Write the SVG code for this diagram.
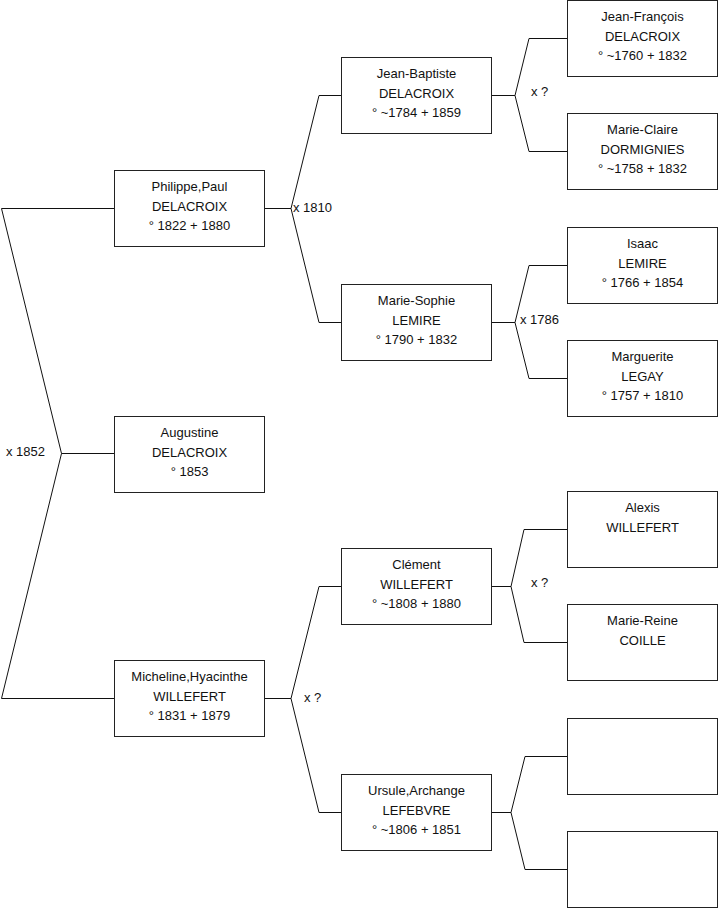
<svg xmlns="http://www.w3.org/2000/svg" width="719" height="908" viewBox="0 0 719 908">
<style>
.box{fill:#fff;stroke:#222;stroke-width:1}
.t{font-family:"Liberation Sans",Arial,sans-serif;font-size:13px;fill:#111;text-anchor:middle}
.l{font-family:"Liberation Sans",Arial,sans-serif;font-size:13px;fill:#111}
.c{fill:none;stroke:#111;stroke-width:1}
</style>
<rect width="719" height="908" fill="#fff"/>
<g id="connectors">
<path class="c" d="M114,208.5H1.5L61.5,453.5L1.5,698.5H114M61.5,453.5H114"/>
<path class="c" d="M264,208.5H291L319,95.5H341M291,208.5L319,322.5H341"/>
<path class="c" d="M264,698.5H291L319,586.5H341M291,698.5L319,812.5H341"/>
<path class="c" d="M491,95.5H515L529,38.5H567M515,95.5L529,151.5H567"/>
<path class="c" d="M491,322.5H515L529,265.5H567M515,322.5L529,378.5H567"/>
<path class="c" d="M491,586.5H511L524,529.5H567M511,586.5L524,642.5H567"/>
<path class="c" d="M491,812.5H511L525,756.5H567M511,812.5L525,869.5H567"/>
<text class="l" x="6" y="456">x 1852</text>
<text class="l" x="293" y="212">x 1810</text>
<text class="l" x="304" y="702">x ?</text>
<text class="l" x="531" y="96">x ?</text>
<text class="l" x="520" y="324">x 1786</text>
<text class="l" x="531" y="587">x ?</text>
</g>
<g id="philippe"><rect class="box" x="114.5" y="170.5" width="150" height="76"/>
<text class="t" x="189.5" y="191">Philippe,Paul</text><text class="t" x="189.5" y="210.5">DELACROIX</text><text class="t" x="189.5" y="230">° 1822 + 1880</text></g>
<g id="augustine"><rect class="box" x="114.5" y="416.5" width="150" height="76"/>
<text class="t" x="189.5" y="437">Augustine</text><text class="t" x="189.5" y="456.5">DELACROIX</text><text class="t" x="189.5" y="476">° 1853</text></g>
<g id="micheline"><rect class="box" x="114.5" y="660.5" width="150" height="76"/>
<text class="t" x="189.5" y="681">Micheline,Hyacinthe</text><text class="t" x="189.5" y="700.5">WILLEFERT</text><text class="t" x="189.5" y="720">° 1831 + 1879</text></g>
<g id="jeanbaptiste"><rect class="box" x="341.5" y="57.5" width="150" height="76"/>
<text class="t" x="416.5" y="78">Jean-Baptiste</text><text class="t" x="416.5" y="97.5">DELACROIX</text><text class="t" x="416.5" y="117">° ~1784 + 1859</text></g>
<g id="mariesophie"><rect class="box" x="341.5" y="284.5" width="150" height="76"/>
<text class="t" x="416.5" y="305">Marie-Sophie</text><text class="t" x="416.5" y="324.5">LEMIRE</text><text class="t" x="416.5" y="344">° 1790 + 1832</text></g>
<g id="clement"><rect class="box" x="341.5" y="548.5" width="150" height="76"/>
<text class="t" x="416.5" y="569">Clément</text><text class="t" x="416.5" y="588.5">WILLEFERT</text><text class="t" x="416.5" y="608">° ~1808 + 1880</text></g>
<g id="ursule"><rect class="box" x="341.5" y="774.5" width="150" height="76"/>
<text class="t" x="416.5" y="795">Ursule,Archange</text><text class="t" x="416.5" y="814.5">LEFEBVRE</text><text class="t" x="416.5" y="834">° ~1806 + 1851</text></g>
<g id="jeanfrancois"><rect class="box" x="567.5" y="0.5" width="150" height="76"/>
<text class="t" x="642.5" y="21">Jean-François</text><text class="t" x="642.5" y="40.5">DELACROIX</text><text class="t" x="642.5" y="60">° ~1760 + 1832</text></g>
<g id="marieclaire"><rect class="box" x="567.5" y="113.5" width="150" height="76"/>
<text class="t" x="642.5" y="134">Marie-Claire</text><text class="t" x="642.5" y="153.5">DORMIGNIES</text><text class="t" x="642.5" y="173">° ~1758 + 1832</text></g>
<g id="isaac"><rect class="box" x="567.5" y="227.5" width="150" height="76"/>
<text class="t" x="642.5" y="248">Isaac</text><text class="t" x="642.5" y="267.5">LEMIRE</text><text class="t" x="642.5" y="287">° 1766 + 1854</text></g>
<g id="marguerite"><rect class="box" x="567.5" y="340.5" width="150" height="76"/>
<text class="t" x="642.5" y="361">Marguerite</text><text class="t" x="642.5" y="380.5">LEGAY</text><text class="t" x="642.5" y="400">° 1757 + 1810</text></g>
<g id="alexis"><rect class="box" x="567.5" y="491.5" width="150" height="76"/>
<text class="t" x="642.5" y="512">Alexis</text><text class="t" x="642.5" y="531.5">WILLEFERT</text></g>
<g id="mariereine"><rect class="box" x="567.5" y="604.5" width="150" height="76"/>
<text class="t" x="642.5" y="625">Marie-Reine</text><text class="t" x="642.5" y="644.5">COILLE</text></g>
<g id="unknown1"><rect class="box" x="567.5" y="718.5" width="150" height="76"/></g>
<g id="unknown2"><rect class="box" x="567.5" y="831.5" width="150" height="76"/></g>
</svg>
